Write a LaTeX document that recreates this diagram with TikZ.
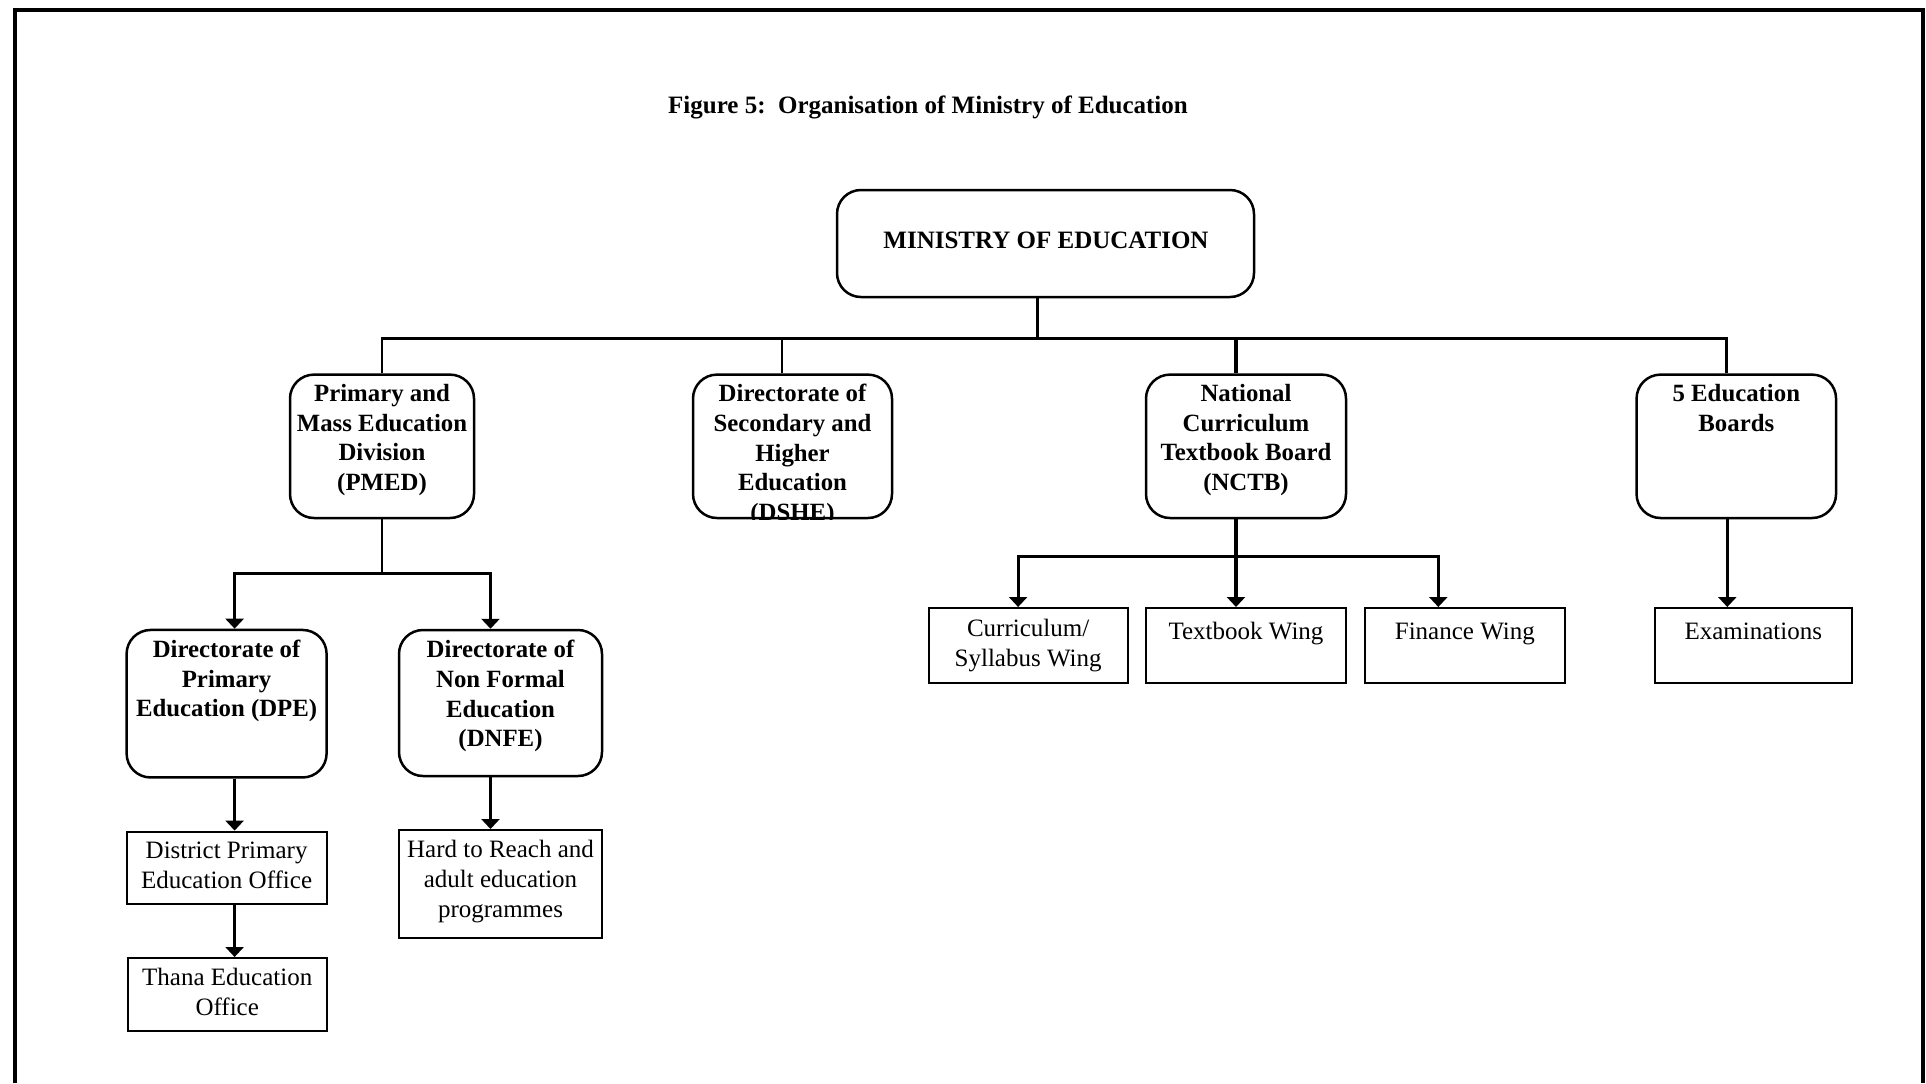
\documentclass[tikz,border=0pt]{standalone}
\usepackage{fontspec}
\setmainfont{Liberation Serif}
\usetikzlibrary{arrows.meta}
\begin{document}
\begin{tikzpicture}[x=0.5pt,y=-0.5pt,
  rbox/.style={draw, line width=1.25pt, rounded corners=12pt, inner sep=0pt},
  sbox/.style={draw, line width=1pt, inner sep=0pt},
  btxt/.style={font=\fontsize{12.4}{14.8}\selectfont\bfseries, align=center, anchor=north, inner sep=0pt, execute at begin node=\strut},
  rtxt/.style={font=\fontsize{12.5}{15}\selectfont, align=center, anchor=north, inner sep=0pt, execute at begin node=\strut},
  conn/.style={line width=1.25pt},
  heavy/.style={line width=1.7pt},
  arr/.style={line width=1.25pt, -{Triangle[width=9pt,length=5pt]}}
]
\useasboundingbox (0,0) rectangle (1926,1083);
% frame
\draw[line width=2pt] (15,1083) -- (15,10) -- (1923,10) -- (1923,1083);

% title
\node[font=\fontsize{12.5}{15}\selectfont\bfseries, anchor=base] (title) at (928,113) {Figure 5:\ \ Organisation of Ministry of Education};

% top box
\node[rbox, minimum width=208.5pt, minimum height=53.5pt] (moe) at (1045.5,243.5) {};
\node[font=\fontsize{12.5}{15}\selectfont\bfseries, anchor=base] (moeT) at (1046,248) {MINISTRY OF EDUCATION};

% second level
\node[rbox, minimum width=92pt, minimum height=71.7pt] (pmed) at (382,446.3) {};
\node[rbox, minimum width=99.5pt, minimum height=71.7pt] (dshe) at (792.5,446.3) {};
\node[rbox, minimum width=100pt, minimum height=71.7pt] (nctb) at (1246,446.3) {};
\node[rbox, minimum width=99.75pt, minimum height=71.7pt] (eb) at (1736.3,446.3) {};

\node[btxt] (pmedT) at ([yshift=-5.3pt]pmed.north) {Primary and\\Mass Education\\Division\\(PMED)};
\begin{scope}
  \clip[rounded corners=12pt] (dshe.south west) rectangle (dshe.north east);
  \node[btxt] (dsheT) at ([yshift=-5.3pt]dshe.north) {Directorate of\\Secondary and\\Higher\\Education\\(DSHE)};
\end{scope}
\node[btxt] (nctbT) at ([yshift=-5.3pt]nctb.north) {National\\Curriculum\\Textbook Board\\(NCTB)};
\node[btxt] (ebT) at ([yshift=-5.3pt]eb.north) {5 Education\\Boards};

% PMED branch
\node[rbox, minimum width=100pt, minimum height=73.75pt] (dpe) at (226.6,703.7) {};
\node[btxt] (dpeT) at ([yshift=-5.6pt]dpe.north) {Directorate of\\Primary\\Education (DPE)};
\node[rbox, minimum width=101.5pt, minimum height=73pt] (dnfe) at (500.5,703) {};
\node[btxt] (dnfeT) at ([yshift=-5.6pt]dnfe.north) {Directorate of\\Non Formal\\Education\\(DNFE)};

\node[sbox, minimum width=100pt, minimum height=36.2pt] (dist) at (226.6,867.8) {};
\node[rtxt] (distT) at ([yshift=-5.6pt]dist.north) {District Primary\\Education Office};
\node[sbox, minimum width=99.5pt, minimum height=36.3pt] (thana) at (227.2,994.3) {};
\node[rtxt] (thanaT) at ([yshift=-5.6pt]thana.north) {Thana Education\\Office};
\node[sbox, minimum width=101.5pt, minimum height=54.2pt] (hard) at (500.5,884.2) {};
\node[rtxt] (hardT) at ([yshift=-5.6pt]hard.north) {Hard to Reach and\\adult education\\programmes};

% NCTB branch
\node[sbox, minimum width=99.5pt, minimum height=37.5pt] (curr) at (1028.1,645.5) {};
\node[rtxt] (currT) at ([yshift=-6pt]curr.north) {Curriculum/\\Syllabus Wing};
\node[sbox, minimum width=100pt, minimum height=37.5pt] (tbw) at (1246,645.5) {};
\node[rtxt] (tbwT) at ([yshift=-5.4pt]tbw.north) {Textbook Wing};
\node[sbox, minimum width=100pt, minimum height=37.5pt] (fin) at (1464.8,645.5) {};
\node[rtxt] (finT) at ([yshift=-5.4pt]fin.north) {Finance Wing};
\node[sbox, minimum width=98.75pt, minimum height=37.5pt] (exam) at (1753.3,645.5) {};
\node[rtxt] (examT) at ([yshift=-5.4pt]exam.north) {Examinations};

% connectors from ministry
\draw[conn] ([xshift=-4pt]moe.south) -- ++(0,-20pt) coordinate (bus) -| (pmed.north);
\draw[conn] (bus) -| ([xshift=-5.25pt]dshe.north);
\draw[heavy] (bus) -| ([xshift=-5pt]nctb.north);
\draw[heavy] (bus) -| ([xshift=-5pt]eb.north);

% PMED connectors
\draw[conn] (pmed.south) -- ++(0,-27pt) coordinate (pb);
\draw[arr] (pb) -| ([xshift=4pt]dpe.north);
\draw[arr] (pb) -| ([xshift=-5pt]dnfe.north);
\draw[arr] ([xshift=4pt]dpe.south) -- ([xshift=4pt]dpe.south |- dist.north);
\draw[arr] ([xshift=4pt]dist.south) -- ([xshift=4pt]dist.south |- thana.north);
\draw[arr] ([xshift=-5pt]dnfe.south) -- ([xshift=-5pt]dnfe.south |- hard.north);

% NCTB connectors
\draw[heavy] ([xshift=-5pt]nctb.south) -- ++(0,-18.5pt) coordinate (nb);
\draw[arr, line width=1.5pt] (nb) -| ([xshift=-5pt]curr.north);
\draw[arr, line width=1.7pt] (nb) -- ([xshift=-5pt]tbw.north);
\draw[arr, line width=1.5pt] (nb) -| ([xshift=-13.25pt]fin.north);
\draw[arr, line width=1.5pt] ([xshift=-4.5pt]eb.south) -- ([xshift=-4.5pt]eb.south |- exam.north);
\end{tikzpicture}
\end{document}
